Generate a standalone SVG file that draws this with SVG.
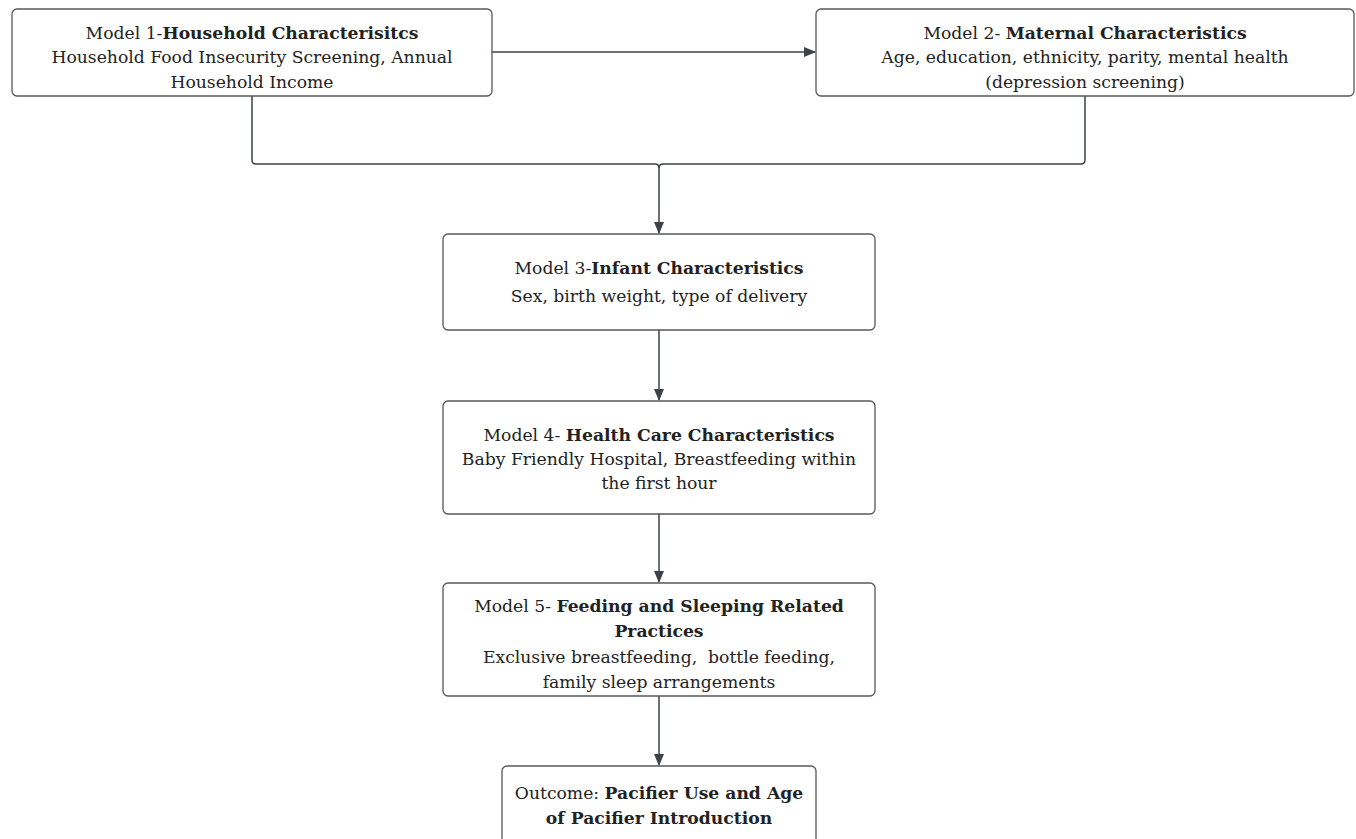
<svg xmlns="http://www.w3.org/2000/svg" width="1356" height="839" viewBox="0 0 1356 839">
<defs>
<style>
.box{fill:#fff;stroke:#55585d;stroke-width:1.3}
text{font-family:"DejaVu Serif","Liberation Serif",serif;font-size:17.2px;fill:#222;text-anchor:middle}
.b{font-weight:bold}
.c{fill:none;stroke:#3d4148;stroke-width:1.5}
</style>
<marker id="ah" markerWidth="12" markerHeight="12" refX="11" refY="6" orient="auto" markerUnits="userSpaceOnUse"><path d="M0,1 L12,6 L0,11 Z" fill="#3d4148"/></marker>
</defs>
<rect width="1356" height="839" fill="#fff"/>
<g id="connectors">
<path class="c" d="M492,52 H815" marker-end="url(#ah)"/>
<path class="c" d="M252,96 V160 Q252,164 256,164 H655 Q659,164 659,168 V233" marker-end="url(#ah)"/>
<path class="c" d="M1085,96 V160 Q1085,164 1081,164 H663 Q659,164 659,168"/>
<path class="c" d="M659,330 V400" marker-end="url(#ah)"/>
<path class="c" d="M659,514 V582" marker-end="url(#ah)"/>
<path class="c" d="M659,696 V765" marker-end="url(#ah)"/>
</g>
<g id="node1">
<rect class="box" x="12" y="9" width="480" height="87" rx="5"/>
<text x="252" y="39">Model 1-<tspan class="b">Household Characterisitcs</tspan></text>
<text x="252" y="63">Household Food Insecurity Screening, Annual</text>
<text x="252" y="88">Household Income</text>
</g>
<g id="node2">
<rect class="box" x="816" y="9" width="538" height="87" rx="5"/>
<text x="1085" y="39">Model 2- <tspan class="b">Maternal Characteristics</tspan></text>
<text x="1085" y="63">Age, education, ethnicity, parity, mental health</text>
<text x="1085" y="88">(depression screening)</text>
</g>
<g id="node3">
<rect class="box" x="443" y="234" width="432" height="96" rx="5"/>
<text x="659" y="274">Model 3-<tspan class="b">Infant Characteristics</tspan></text>
<text x="659" y="302">Sex, birth weight, type of delivery</text>
</g>
<g id="node4">
<rect class="box" x="443" y="401" width="432" height="113" rx="5"/>
<text x="659" y="441">Model 4- <tspan class="b">Health Care Characteristics</tspan></text>
<text x="659" y="465">Baby Friendly Hospital, Breastfeeding within</text>
<text x="659" y="489">the first hour</text>
</g>
<g id="node5">
<rect class="box" x="443" y="583" width="432" height="113" rx="5"/>
<text x="659" y="612">Model 5- <tspan class="b">Feeding and Sleeping Related</tspan></text>
<text x="659" y="637" class="b">Practices</text>
<text x="659" y="663" xml:space="preserve">Exclusive breastfeeding,  bottle feeding,</text>
<text x="659" y="688">family sleep arrangements</text>
</g>
<g id="node6">
<rect class="box" x="502" y="766" width="314" height="90" rx="5"/>
<text x="659" y="799">Outcome: <tspan class="b">Pacifier Use and Age</tspan></text>
<text x="659" y="824" class="b">of Pacifier Introduction</text>
</g>
</svg>
